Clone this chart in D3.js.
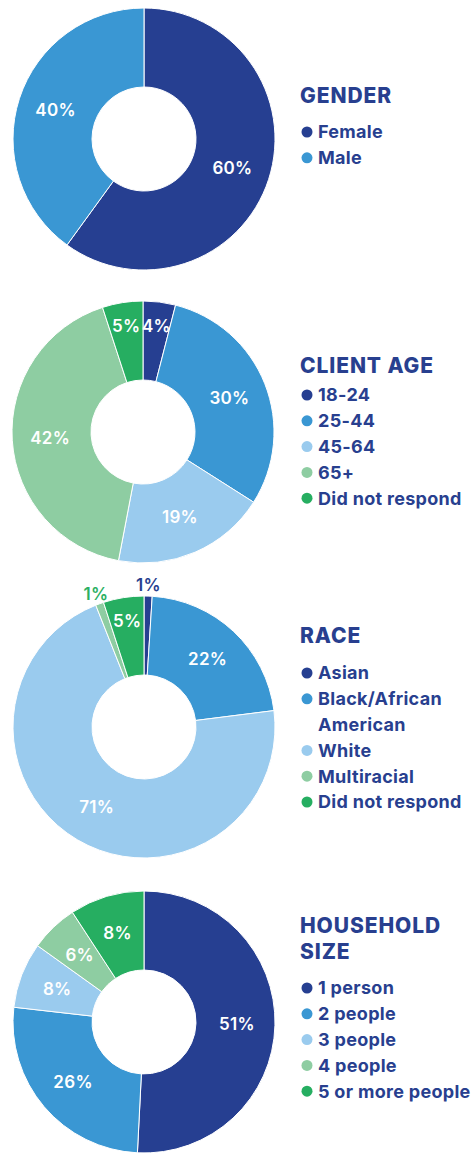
<!DOCTYPE html>
<html>
<head>
<meta charset="utf-8">
<script src="https://cdn.jsdelivr.net/npm/d3@7"></script>
<style>
  body { margin: 0; background: #fff; }
  svg { display: block; }
  text { font-family: Inter, "Open Sans", sans-serif; }
</style>
</head>
<body>
<script>
// data
const genderLabels = ["Female", "Male"];
const genderValues = [60, 40];

const ageLabels = ["18-24", "25-44", "45-64", "65+", "Did not respond"];
const ageValues = [4, 30, 19, 42, 5];

const raceLabels = ["Asian", "Black/African American", "White", "Multiracial", "Did not respond"];
const raceValues = [1, 22, 71, 1, 5];

const householdLabels = ["1 person", "2 people", "3 people", "4 people", "5 or more people"];
const householdValues = [51, 26, 8, 6, 8];
// slice sizes as drawn in the picture (printed labels are rounded)
const householdShares = [50.8, 26, 8.1, 5.9, 9.2];

const palette = ["#263f91", "#3a97d3", "#9acbee", "#8ecda2", "#26ae61"];
const navy = "#283f8f";

// layout for each panel
const panels = [
  { title: "GENDER", labels: genderLabels, values: genderValues, cx: 144, cy: 139, titleY: 95, legendY: 132 },
  { title: "CLIENT AGE", labels: ageLabels, values: ageValues, cx: 143, cy: 432, titleY: 365, legendY: 395 },
  { title: "RACE", labels: raceLabels, values: raceValues, cx: 144, cy: 727, titleY: 635, legendY: 673 },
  { title: "HOUSEHOLD SIZE", labels: householdLabels, values: householdValues, shares: householdShares, cx: 144, cy: 1022, titleY: 925, legendY: 988 }
];

const width = 473, height = 1153;
const outerR = 131, innerR = 52;
const legendX = 300, rowH = 25.8, maxW = 160;

const svg = d3.select("body").append("svg")
  .attr("width", width)
  .attr("height", height);

const pie = d3.pie().sort(null).value(d => d.share);
const arc = d3.arc().innerRadius(innerR).outerRadius(outerR);

// split text into lines that fit maxW
function wrap(str, size, weight, ls) {
  const probe = svg.append("text").attr("font-size", size).attr("font-weight", weight).attr("letter-spacing", ls);
  const words = str.split(" ");
  const lines = [];
  let line = words[0];
  for (let i = 1; i < words.length; i++) {
    probe.text(line + " " + words[i]);
    if (probe.node().getComputedTextLength() > maxW) {
      lines.push(line);
      line = words[i];
    } else {
      line = line + " " + words[i];
    }
  }
  lines.push(line);
  probe.remove();
  return lines;
}

panels.forEach(p => {
  const color = d3.scaleOrdinal().domain(p.labels).range(palette);
  const g = svg.append("g").attr("transform", `translate(${p.cx},${p.cy})`);
  const rows = p.values.map((v, i) => ({ label: p.labels[i], value: v, share: p.shares ? p.shares[i] : v }));
  const arcs = pie(rows);

  g.selectAll("path")
    .data(arcs)
    .join("path")
    .attr("d", arc)
    .attr("fill", d => color(d.data.label))
    .attr("stroke", "#fff")
    .attr("stroke-width", 1);

  g.selectAll("text.pct")
    .data(arcs)
    .join("text")
    .attr("class", "pct")
    .attr("transform", d => {
      let r = 93;
      if (d.data.value <= 1) r = 142;
      else if (d.data.value <= 5) r = 107;
      const c = d3.arc().innerRadius(r).outerRadius(r).centroid(d);
      return `translate(${c[0]},${c[1]})`;
    })
    .attr("text-anchor", "middle")
    .attr("dy", "0.36em")
    .attr("font-size", 17)
    .attr("font-weight", 600)
    .attr("letter-spacing", 0.3)
    .attr("fill", (d, i) => d.data.value <= 1 ? (i === 0 ? navy : "#2bb063") : "#fff")
    .text(d => d.data.value + "%");

  // legend
  const lg = svg.append("g");
  const titleLines = wrap(p.title, 21, 800, 0.9);
  titleLines.forEach((t, j) => {
    lg.append("text")
      .attr("x", legendX)
      .attr("y", p.titleY + j * 26)
      .attr("dy", "0.36em")
      .attr("font-size", 21)
      .attr("font-weight", 800)
      .attr("letter-spacing", 0.9)
      .attr("fill", navy)
      .text(t);
  });

  let row = 0;
  p.labels.forEach((lab, i) => {
    const y = p.legendY + row * rowH;
    lg.append("circle")
      .attr("cx", legendX + 7)
      .attr("cy", y)
      .attr("r", 5.5)
      .attr("fill", color(lab));
    const lines = wrap(lab, 18, 700, 0.3);
    lines.forEach((t, j) => {
      lg.append("text")
        .attr("x", legendX + 18)
        .attr("y", y + j * rowH)
        .attr("dy", "0.36em")
        .attr("font-size", 18)
        .attr("font-weight", 700)
        .attr("letter-spacing", 0.3)
        .attr("fill", navy)
        .text(t);
    });
    row += lines.length;
  });
});
</script>
</body>
</html>
